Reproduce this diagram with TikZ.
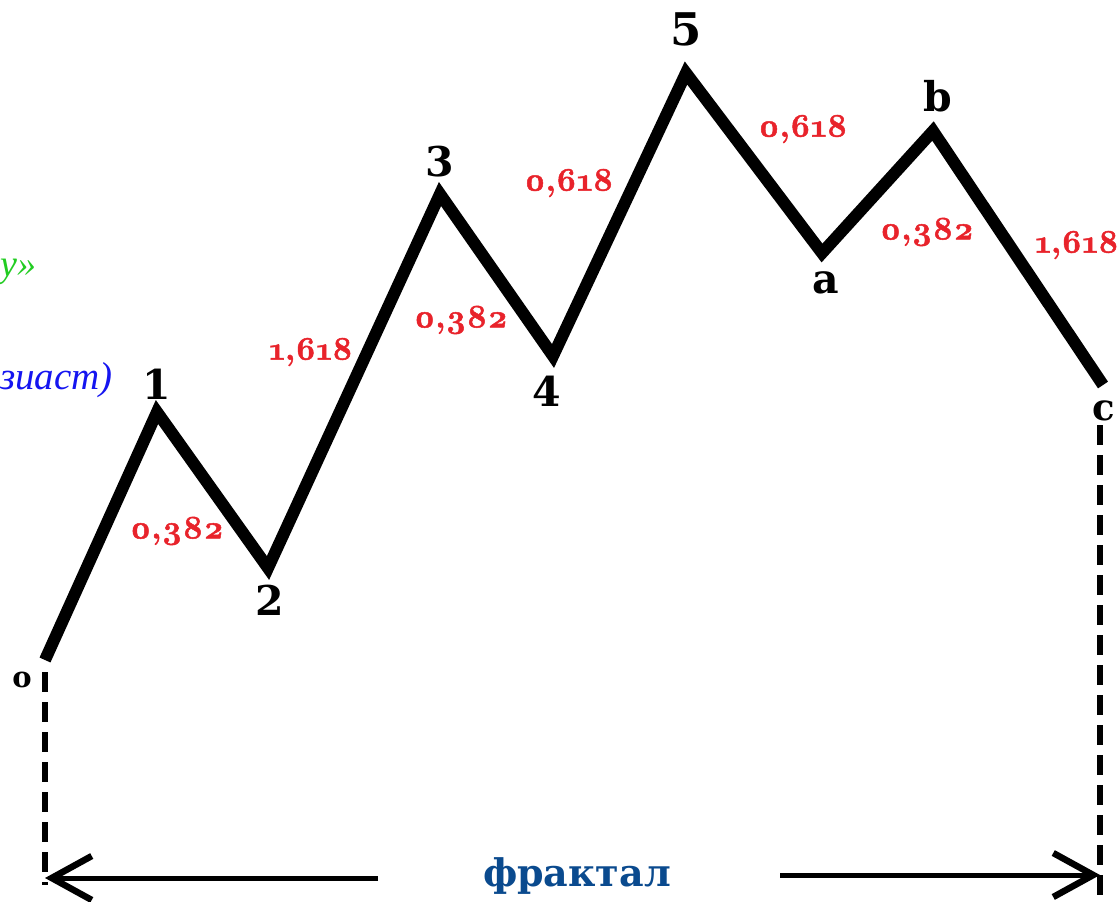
\documentclass[tikz,border=0pt]{standalone}
\usepackage{fontspec}
\usetikzlibrary{arrows.meta}
\newfontfamily\osf{Latin Modern Roman}[Numbers=OldStyle, BoldFeatures={FakeBold=1.5}]
\newfontfamily\cyr{Liberation Serif}
\newfontfamily\heavy{DejaVu Serif}
\definecolor{lblred}{HTML}{E8232B}
\definecolor{fracblue}{HTML}{0A4A8E}
\definecolor{grn}{HTML}{22CC22}
\definecolor{blu}{HTML}{1515F0}
\tikzset{
  wave/.style={line width=12pt, black},
  ratio/.style={text=lblred, font=\osf\bfseries\fontsize{33}{33}\selectfont, inner sep=0pt},
  pt/.style={font=\heavy\bfseries\fontsize{41}{41}\selectfont, inner sep=0pt},
  dashline/.style={line width=5.5pt, dash pattern=on 20pt off 10pt},
  arr/.style={line width=5pt, -{Straight Barb[length=40pt,width=44pt,line width=6.5pt]}}
}
\begin{document}
\begin{tikzpicture}[x=1pt,y=-1pt]
\useasboundingbox (0,0) rectangle (1117,902);
% vertices
\coordinate (o) at (45,660);
\coordinate (v1) at (157,412);
\coordinate (v2) at (268,568);
\coordinate (v3) at (440,194);
\coordinate (v4) at (553,356);
\coordinate (v5) at (686,73);
\coordinate (va) at (822,253);
\coordinate (vb) at (933,131);
\coordinate (vc) at (1103,385);
\draw[wave] (o) -- (v1) -- (v2) -- (v3) -- (v4) -- (v5) -- (va) -- (vb) -- (vc);
% point labels
\node[pt, font=\heavy\bfseries\fontsize{29}{29}\selectfont] (lo) at (22,680) {o};
\node[pt] (l1) at (157,384) {1};
\node[pt] (l2) at (270,600) {2};
\node[pt] (l3) at (440,162) {3};
\node[pt] (l4) at (547,391) {4};
\node[pt, font=\heavy\bfseries\fontsize{45}{45}\selectfont] (l5) at (686,29) {5};
\node[pt] (la) at (826,283) {a};
\node[pt] (lb) at (938,96) {b};
\node[pt, font=\heavy\bfseries\fontsize{37}{37}\selectfont] (lc) at (1104,411) {c};
% ratio labels
\node[ratio] (r1) at (177,531) {0,382};
\node[ratio] (r2) at (311,352) {1,618};
\node[ratio] (r3) at (461,320) {0,382};
\node[ratio] (r4) at (569,183) {0,618};
\node[ratio] (r5) at (803,129) {0,618};
\node[ratio] (r6) at (927,232) {0,382};
\node[ratio] (r7) at (1077,245) {1,618};
% cut-off side texts
\node[anchor=west, inner sep=0pt, text=grn, font=\cyr\itshape\fontsize{38}{38}\selectfont] (g) at (0,272) {у»};
\node[anchor=west, inner sep=0pt, text=blu, font=\cyr\itshape\fontsize{39}{39}\selectfont] (bl) at (0,380) {зиаст)};
% dashed verticals
\coordinate (od1) at (45,672);
\coordinate (od2) at (45,885);
\coordinate (cd1) at (1100,425);
\coordinate (cd2) at (1100,902);
\draw[dashline] (od1) -- (od2);
\draw[dashline] (cd1) -- (cd2);
% arrows
\coordinate (al1) at (378,878);
\coordinate (al2) at (45,878);
\coordinate (ar1) at (780,875);
\coordinate (ar2) at (1100,875);
\draw[arr] (al1) -- (al2);
\draw[arr] (ar1) -- (ar2);
\node[inner sep=0pt, text=fracblue, font=\heavy\bfseries\fontsize{38}{38}\selectfont] (fr) at (577,876) {фрактал};
\end{tikzpicture}
\end{document}
